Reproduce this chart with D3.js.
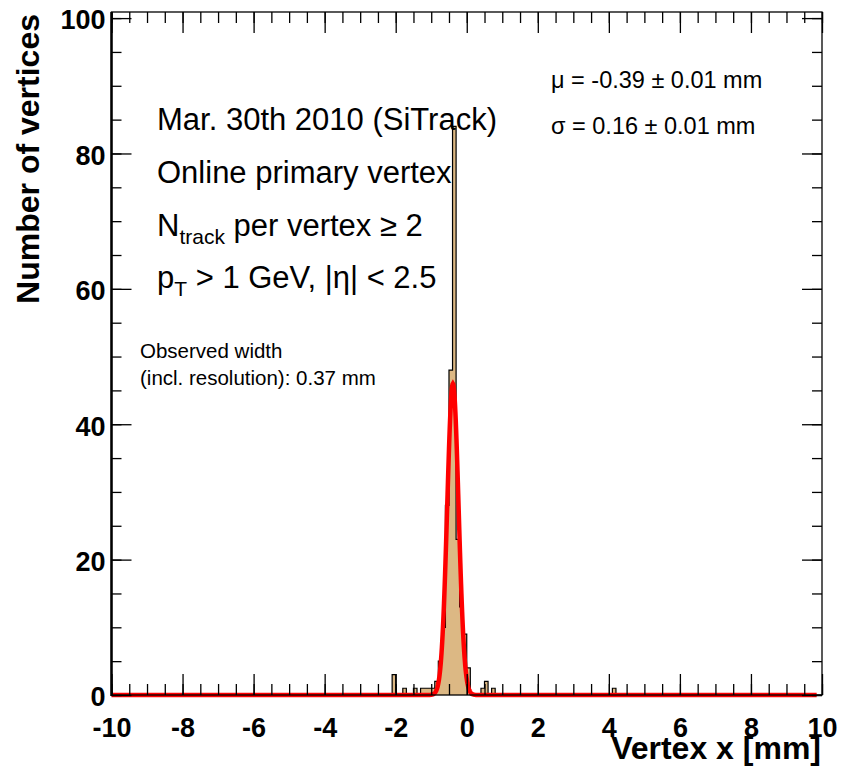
<html>
<head>
<style>
  body { margin: 0; background: white; }
  text { font-family: "Liberation Sans", Arial, sans-serif; fill: black; }
  .tick text { font-weight: bold; font-size: 27px; }
</style>
<script src="https://cdn.jsdelivr.net/npm/d3@7"></script>
</head>
<body>
<div id="chart"></div>
<script>
  // histogram of vertex x, 0.1 mm bins (lower edge, entries); empty bins omitted
  var binLow = [-2.1, -1.8, -1.5, -1.3, -1.2, -1.1, -1.0, -0.9, -0.8, -0.7, -0.6, -0.5,
                -0.4, -0.3, -0.2, -0.1, 0.0, 0.4, 0.5, 0.7, 4.1];
  var counts = [3, 1, 1, 1, 1, 1, 1, 2, 5, 10, 28, 48,
                84, 23, 13, 9, 4, 1, 2, 1, 1];
  var binWidth = 0.1;

  // gaussian fit
  var fitMean = -0.39, fitSigma = 0.16, fitAmp = 46;

  var xMajor = [-10, -8, -6, -4, -2, 0, 2, 4, 6, 8, 10];
  var yMajor = [0, 20, 40, 60, 80, 100];

  var W = 842, H = 766;
  var svg = d3.select('#chart').append('svg')
      .attr('width', W)
      .attr('height', H);

  var x = d3.scaleLinear().domain([-10, 10]).range([111.5, 822]);
  var y = d3.scaleLinear().domain([0, 100.9]).range([695, 12]);

  // full set of bins, zeros included, for the outline
  var nBins = Math.round(20 / binWidth);
  var full = d3.range(nBins).map(function(i) { return {lo: -10 + i * binWidth, n: 0}; });
  binLow.forEach(function(lo, i) {
      full[Math.round((lo + 10) / binWidth)].n = counts[i];
  });
  var steps = full.map(function(b) { return [b.lo, b.n]; });
  steps.push([10, 0]);

  var stepLine = d3.line()
      .x(function(d) { return x(d[0]); })
      .y(function(d) { return y(d[1]); })
      .curve(d3.curveStepAfter);

  svg.append('path')
      .attr('d', stepLine(steps) + 'L' + x(10) + ',' + y(0) + 'L' + x(-10) + ',' + y(0) + 'Z')
      .attr('fill', '#dcb884')
      .attr('stroke', 'none');

  svg.append('path')
      .attr('d', stepLine(steps))
      .attr('fill', 'none')
      .attr('stroke', 'black')
      .attr('stroke-width', 1.2);

  // fit curve
  var fx = d3.range(-10, 9.86, 0.01);
  var fit = d3.line()
      .x(function(d) { return x(d); })
      .y(function(d) { return y(fitAmp * Math.exp(-0.5 * Math.pow((d - fitMean) / fitSigma, 2))); });
  svg.append('path')
      .attr('d', fit(fx))
      .attr('fill', 'none')
      .attr('stroke', '#ff0000')
      .attr('stroke-width', 4.5);

  // axes: ticks on all four sides
  var xMinor = d3.range(-10, 10.001, 0.5);
  var yMinor = d3.range(0, 100.001, 5);
  var fmt = function(d) { return String(d); };

  function axis(gen, scale, vals, size, tx, ty, labels) {
      var a = gen(scale).tickValues(vals).tickSizeInner(size).tickSizeOuter(0)
          .tickFormat(labels ? fmt : '');
      var g = svg.append('g').attr('transform', 'translate(' + tx + ',' + ty + ')').call(a);
      g.select('.domain').remove();
      g.selectAll('line').attr('stroke', 'black').attr('stroke-width', 1.3);
      return g;
  }

  axis(d3.axisBottom, x, xMinor, -11, 0, 695, false);
  var gx = axis(d3.axisBottom, x, xMajor, -21, 0, 695, true);
  gx.selectAll('text').attr('y', 42).attr('dy', 0);
  axis(d3.axisTop, x, xMinor, -11, 0, 12, false);
  axis(d3.axisTop, x, xMajor, -21, 0, 12, false);

  axis(d3.axisLeft, y, yMinor, -10, 111.5, 0, false);
  var gy = axis(d3.axisLeft, y, yMajor, -20, 111.5, 0, true);
  gy.selectAll('text').attr('x', -6).attr('dy', '0.4em');
  axis(d3.axisRight, y, yMinor, -10, 822, 0, false);
  axis(d3.axisRight, y, yMajor, -20, 822, 0, false);

  // frame
  svg.append('rect')
      .attr('x', x(-10)).attr('y', y(100.9))
      .attr('width', x(10) - x(-10)).attr('height', y(0) - y(100.9))
      .attr('fill', 'none').attr('stroke', 'black').attr('stroke-width', 1.3);
  svg.append('line')
      .attr('x1', x(-10)).attr('x2', x(-10)).attr('y1', y(100.9)).attr('y2', y(0) + 1)
      .attr('stroke', 'black').attr('stroke-width', 2.5);

  // axis titles
  svg.append('text')
      .attr('transform', 'translate(39,14) rotate(-90)')
      .attr('text-anchor', 'end')
      .style('font-weight', 'bold').style('font-size', '32px')
      .text('Number of vertices');
  svg.append('text')
      .attr('x', 821).attr('y', 759)
      .attr('text-anchor', 'end')
      .style('font-weight', 'bold').style('font-size', '32px')
      .text('Vertex x [mm]');

  // labels
  var big = svg.append('g').style('font-size', '31px');
  big.append('text').attr('x', 157).attr('y', 130).text('Mar. 30th 2010 (SiTrack)');
  big.append('text').attr('x', 157).attr('y', 183).text('Online primary vertex');
  var l3 = big.append('text').attr('x', 157).attr('y', 236);
  l3.append('tspan').text('N');
  l3.append('tspan').attr('dy', 8).style('font-size', '21px').text('track');
  l3.append('tspan').attr('dy', -8).text(' per vertex \u2265 2');
  var l4 = big.append('text').attr('x', 157).attr('y', 288);
  l4.append('tspan').text('p');
  l4.append('tspan').attr('dy', 8).style('font-size', '21px').text('T');
  l4.append('tspan').attr('dy', -8).text(' > 1 GeV, |\u03b7| < 2.5');

  var small = svg.append('g').style('font-size', '20.5px');
  small.append('text').attr('x', 140).attr('y', 358).text('Observed width');
  small.append('text').attr('x', 140).attr('y', 385).text('(incl. resolution): 0.37 mm');

  var fitTxt = svg.append('g').style('font-size', '23.5px');
  fitTxt.append('text').attr('x', 551).attr('y', 88).text('\u03bc = -0.39 \u00b1 0.01 mm');
  fitTxt.append('text').attr('x', 551).attr('y', 134).text('\u03c3 = 0.16 \u00b1 0.01 mm');
</script>
</body>
</html>
